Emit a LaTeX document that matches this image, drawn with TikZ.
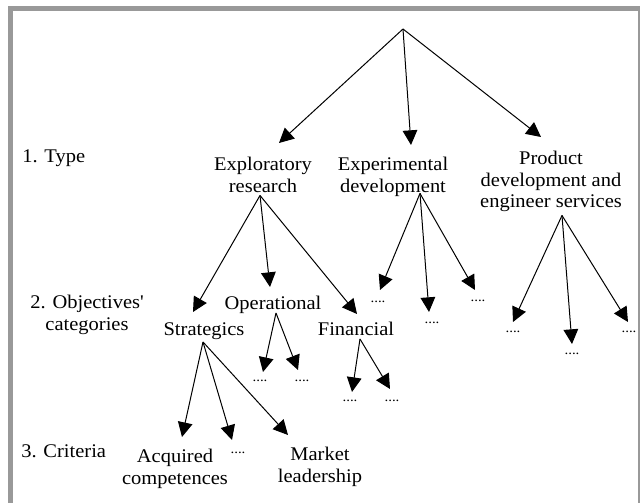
\documentclass[tikz,border=0pt]{standalone}
\usepackage{fontspec}
\setmainfont{Liberation Serif}[FakeStretch=1.06]
\usepackage{tikz}
\usetikzlibrary{arrows.meta}

\tikzset{
  lbl/.style={inner sep=0pt, anchor=base, align=center, font=\fontsize{14.5}{16.2}\selectfont},
  dots/.style={inner sep=0pt, anchor=base, font=\fontsize{10.5}{12}\selectfont},
  arr/.style={-{Triangle[length=11pt, width=11pt]}, line width=0.75pt},
}

\begin{document}
\begin{tikzpicture}[x=0.75pt, y=-0.75pt]

\useasboundingbox (0,0) rectangle (640,503);

% ============================================================
% FRAME
% ============================================================

\draw[black!40, line width=3.75pt] (10.5,503) -- (10.5,9) -- (640,9);
\draw[black!40, line width=0.9pt]  (639,9) -- (639,503);

% ============================================================
% LEVEL LABELS
% ============================================================

\node[lbl, anchor=base west] (typ)  at (22,162) {1. Type};
\node[lbl]                   (obj)  at (87,330) {2. Objectives\textquotesingle\\categories};
\node[lbl, anchor=base west] (crit) at (21,457) {3. Criteria};

% ============================================================
% TREE
% ============================================================

\coordinate (root) at (403,29);

% type (base = last line)
\node[lbl] (expl) at (263,192) {Exploratory\\research};
\node[lbl] (expm) at (393,192) {Experimental\\development};
\node[lbl] (prod) at (551,208) {Product\\development and\\engineer services};

% objectives' categories
\node[lbl] (strat) at (204,335) {Strategics};
\node[lbl] (oper)  at (273,309) {Operational};
\node[lbl] (fin)   at (356,335) {Financial};

\node[dots] (e1) at (378,302) {....};
\node[dots] (e2) at (432,323) {....};
\node[dots] (e3) at (478,301) {....};
\node[dots] (p1) at (513,332) {....};
\node[dots] (p2) at (572,354) {....};
\node[dots] (p3) at (629,332) {....};

% criteria
\node[lbl]  (acq) at (175,484) {Acquired\\competences};
\node[dots] (s2)  at (238,453) {....};
\node[lbl]  (mkt) at (320,482) {Market\\leadership};

\node[dots] (o1) at (260,381) {....};
\node[dots] (o2) at (302,381) {....};
\node[dots] (f1) at (350,401) {....};
\node[dots] (f2) at (392,401) {....};

% arrows
\draw[arr] (root) -- ([shift={(16,-49)}]expl.base);
\draw[arr] (root) -- ([shift={(18,-47)}]expm.base);
\draw[arr] (root) -- ([shift={(-10,-71)}]prod.base);

\draw[arr] ([shift={(-3,3)}]expl.south) -- ([shift={(-11,-23)}]strat.base);
\draw[arr] ([shift={(-3,3)}]expl.south) -- ([shift={(-3,-22)}]oper.base);
\draw[arr] ([shift={(-3,3)}]expl.south) -- ([shift={(1,-21)}]fin.base);

\draw[arr] ([shift={(27,-3)}]expm.south) -- ([shift={(2,-12)}]e1.base);
\draw[arr] ([shift={(27,-3)}]expm.south) -- ([shift={(-3,-11)}]e2.base);
\draw[arr] ([shift={(27,-3)}]expm.south) -- ([shift={(-3,-11)}]e3.base);

\draw[arr] ([shift={(11,3)}]prod.south) -- ([shift={(0,-10)}]p1.base);
\draw[arr] ([shift={(11,3)}]prod.south) -- ([shift={(0,-10)}]p2.base);
\draw[arr] ([shift={(11,3)}]prod.south) -- ([shift={(-1,-10)}]p3.base);

\draw[arr] ([shift={(-1,7)}]strat.base) -- ([shift={(7,-47)}]acq.base);
\draw[arr] ([shift={(-1,7)}]strat.base) -- ([shift={(-6,-13)}]s2.base);
\draw[arr] ([shift={(-1,7)}]strat.base) -- ([shift={(-32,-47)}]mkt.base);

\draw[arr] ([shift={(3,4)}]oper.base) -- ([shift={(3,-9)}]o1.base);
\draw[arr] ([shift={(3,4)}]oper.base) -- ([shift={(-4,-11)}]o2.base);

\draw[arr] ([shift={(4,4)}]fin.base) -- ([shift={(2,-9)}]f1.base);
\draw[arr] ([shift={(4,4)}]fin.base) -- ([shift={(-2,-12)}]f2.base);

\end{tikzpicture}
\end{document}
